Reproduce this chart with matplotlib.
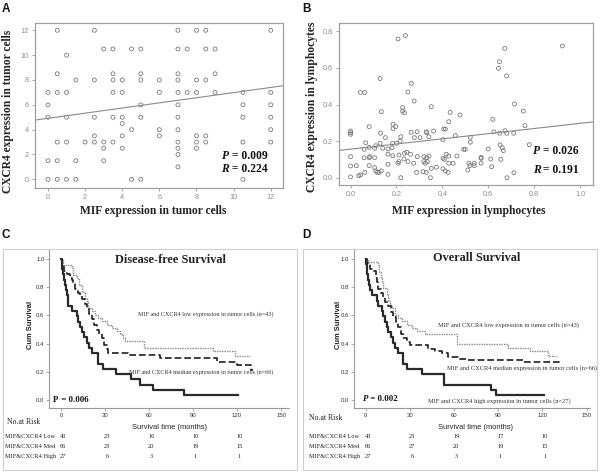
import numpy as np
import matplotlib
matplotlib.use("Agg")
import matplotlib.pyplot as plt
from matplotlib.patches import Rectangle
from matplotlib.transforms import blended_transform_factory

SERIF = ["Liberation Serif", "DejaVu Serif"]
SANS = ["Liberation Sans", "DejaVu Sans"]

# ---------------- Panel A data (MIF vs CXCR4 in tumor cells) ----------------
A_rows = {
    12:   [0.5, 2.5, 7, 8, 8.5, 12],
    10.5: [3, 3.5, 4.5, 5, 7, 7.5, 8.5, 9],
    10:   [1],
    8.5:  [0.5, 3.5, 5, 7, 9],
    8:    [1.5, 2.5, 3.5, 4, 5, 6, 7, 8, 8.5],
    7:    [0, 0.5, 1, 3.5, 4, 6, 7, 7.5, 8, 9, 10.5, 12],
    6:    [0, 5, 7, 10.5, 12],
    5:    [0, 1, 2.5, 3.5, 4, 5, 7, 10.5, 12],
    4.5:  [4],
    4:    [4.5, 6, 7, 12],
    3.5:  [2.5, 4, 6, 8, 8.5],
    3:    [0.5, 1, 2, 2.5, 3, 3.5, 7, 8, 8.5, 10.5, 12],
    2.5:  [3, 4, 7, 8],
    2:    [7],
    1.5:  [0, 0.5, 1.5, 3],
    1:    [7],
    0:    [0, 0.5, 1, 1.5, 4.5, 5, 10.5],
}
A_x = [x for yv, xs in A_rows.items() for x in xs]
A_y = [yv for yv, xs in A_rows.items() for x in xs]
A_fit = (4.915, 0.207)          # intercept, slope
A_stats = ("0.009", "0.224")

# ---------------- Panel B data (lymphocytes) ----------------
B_pts = [
    (0.207, 0.758), (0.239, 0.777), (0.129, 0.542), (0.043, 0.466), (0.062, 0.466),
    (0.265, 0.516), (0.25, 0.469),
    (0.672, 0.707), (0.649, 0.634), (0.645, 0.598), (0.68, 0.557), (0.923, 0.72),
    (0.715, 0.403), (0.753, 0.364), (0.62, 0.319), (0.76, 0.285), (0.522, 0.221),
    (0.522, 0.194), (0.779, 0.18), (0.493, 0.155), (0.50, 0.155), (0.477, 0.343),
    (0.625, 0.251), (0.65, 0.243), (0.673, 0.257), (0.68, 0.243), (0.711, 0.243),
    (0.652, 0.179), (0.661, 0.164), (0.666, 0.148), (0.60, 0.157), (0.569, 0.111),
    (0.569, 0.106), (0.611, 0.102), (0.655, 0.10), (0.516, 0.079), (0.539, 0.079),
    (0.52, 0.066), (0.539, 0.066), (0.569, 0.079), (0.615, 0.06), (0.511, 0.042),
    (0.712, 0.027), (0.682, 0.0),
    (0.277, 0.419), (0.352, 0.388), (0.227, 0.383), (0.134, 0.361), (0.227, 0.364),
    (0.235, 0.355), (0.434, 0.357),
    (0.081, 0.279), (0.185, 0.292), (0.197, 0.279), (0.185, 0.268),
    (0.0, 0.255), (0.0, 0.246), (0.0, 0.237),
    (0.131, 0.243), (0.152, 0.219), (0.264, 0.248), (0.29, 0.251), (0.33, 0.251),
    (0.332, 0.246), (0.362, 0.255), (0.407, 0.266), (0.413, 0.266), (0.428, 0.306),
    (0.457, 0.23),
    (0.219, 0.224), (0.201, 0.188), (0.184, 0.188), (0.216, 0.20), (0.066, 0.191),
    (0.11, 0.175), (0.129, 0.188), (0.278, 0.219), (0.303, 0.219), (0.341, 0.224),
    (0.402, 0.208),
    (0.059, 0.155), (0.081, 0.166), (0.105, 0.161), (0.14, 0.161), (0.163, 0.157),
    (0.181, 0.164),
    (0.0, 0.115), (0.059, 0.109), (0.081, 0.109), (0.084, 0.115), (0.105, 0.109),
    (0.163, 0.128), (0.184, 0.12), (0.211, 0.124), (0.235, 0.133), (0.245, 0.139),
    (0.262, 0.128), (0.291, 0.115), (0.32, 0.115), (0.332, 0.109), (0.342, 0.118),
    (0.417, 0.128), (0.428, 0.118), (0.464, 0.118),
    (0.0, 0.064), (0.025, 0.066), (0.081, 0.066), (0.105, 0.055), (0.163, 0.073),
    (0.207, 0.079), (0.211, 0.088), (0.233, 0.102), (0.25, 0.088), (0.275, 0.079),
    (0.319, 0.088), (0.326, 0.079), (0.335, 0.088), (0.403, 0.106), (0.41, 0.10),
    (0.428, 0.079), (0.447, 0.079),
    (0.036, 0.011), (0.044, 0.015), (0.062, 0.029), (0.11, 0.037), (0.117, 0.029),
    (0.124, 0.029), (0.134, 0.037), (0.163, 0.018), (0.288, 0.029), (0.316, 0.033),
    (0.33, 0.029), (0.352, 0.051), (0.374, 0.057), (0.403, 0.049), (0.413, 0.037),
    (0.425, 0.029),
    (0.0, 0.004), (0.219, 0.0), (0.348, 0.0),
]
B_x = [p[0] for p in B_pts]
B_y = [p[1] for p in B_pts]
B_fit = (0.156, 0.141)
B_stats = ("0.026", "0.191")

# ---------------- Panel C: Disease-free survival ----------------
C_low_t = [0, 1.6, 7.3, 8.4, 10.7, 12.5, 14.1, 16.4, 17.5, 18.6, 20.9, 23.2, 25.4, 27.7,
           31.1, 34.5, 37.9, 40.2, 42.0, 43.6, 56.8, 103.8, 118.6]
C_low_s = [1.0, 0.953, 0.93, 0.884, 0.86, 0.814, 0.767, 0.721, 0.698, 0.651, 0.628, 0.605,
           0.581, 0.558, 0.535, 0.512, 0.488, 0.465, 0.442, 0.419, 0.372, 0.349, 0.314]
C_low_end = 128.8
C_med_t = [0, 0.9, 2.3, 3.9, 6.2, 7.3, 8.4, 9.5, 11.4, 13.0, 14.5, 16.4, 17.5, 19.1, 20.9,
           22.7, 24.3, 25.9, 27.7, 29.5, 31.1, 32.3, 45.9, 67.5, 106.0, 119.8, 129.5]
C_med_s = [1.0, 0.955, 0.909, 0.894, 0.864, 0.848, 0.818, 0.788, 0.758, 0.742, 0.712, 0.682,
           0.652, 0.606, 0.576, 0.53, 0.5, 0.47, 0.439, 0.394, 0.364, 0.338, 0.318, 0.297,
           0.272, 0.25, 0.212]
C_med_end = 131.0
C_high_t = [0, 0.5, 1.0, 1.6, 2.2, 2.8, 3.4, 4.0, 5.0, 7.3, 10.7, 11.8, 13.0, 14.1, 15.9,
            17.5, 19.1, 20.9, 25.4, 28.9, 37.3, 47.7, 53.9, 62.5, 84.1]
C_high_s = [1.0, 0.963, 0.926, 0.889, 0.852, 0.815, 0.778, 0.741, 0.667, 0.63, 0.593, 0.556,
            0.519, 0.481, 0.444, 0.407, 0.37, 0.333, 0.259, 0.222, 0.185, 0.148, 0.111,
            0.074, 0.037]
C_high_end = 120.4
C_risk = {"Low": [43, 23, 16, 10, 10], "Med": [66, 23, 20, 19, 15], "High": [27, 6, 3, 1, 1]}

# ---------------- Panel D: Overall survival ----------------
D_low_t = [0, 1.5, 8.1, 9.0, 10.4, 11.2, 12.0, 14.2, 15.4, 16.5, 17.6, 19.9, 22.2, 24.4,
           27.8, 31.2, 34.6, 40.2, 61.7, 96.8, 111.5, 124.0]
D_low_s = [1.0, 0.977, 0.953, 0.907, 0.86, 0.837, 0.791, 0.744, 0.698, 0.674, 0.651, 0.605,
           0.581, 0.558, 0.535, 0.512, 0.488, 0.465, 0.395, 0.372, 0.349, 0.314]
D_low_end = 129.6
D_med_t = [0, 1.0, 3.0, 4.6, 6.9, 7.5, 8.6, 10.4, 12.0, 13.1, 15.4, 17.2, 18.8, 20.3, 22.2,
           23.9, 25.5, 27.8, 30.1, 42.5, 47.0, 51.6, 56.1, 62.9, 69.7, 107.0]
D_med_s = [1.0, 0.97, 0.924, 0.909, 0.864, 0.833, 0.788, 0.758, 0.727, 0.697, 0.667, 0.621,
           0.591, 0.545, 0.515, 0.47, 0.439, 0.409, 0.394, 0.364, 0.348, 0.333, 0.303,
           0.295, 0.288, 0.272]
D_med_end = 132.6
D_high_t = [0, 0.4, 0.7, 1.2, 1.8, 2.4, 2.9, 4.1, 7.5, 8.6, 10.8, 12.0, 13.1, 14.2, 15.4,
            17.2, 18.8, 19.9, 21.7, 25.5, 27.8, 38.0, 53.4, 85.0, 88.2]
D_high_s = [1.0, 0.963, 0.926, 0.889, 0.852, 0.815, 0.778, 0.741, 0.704, 0.667, 0.63, 0.593,
            0.556, 0.519, 0.481, 0.444, 0.407, 0.37, 0.333, 0.259, 0.222, 0.185, 0.111,
            0.074, 0.037]
D_high_end = 121.3
D_risk = {"Low": [43, 23, 19, 17, 10], "Med": [66, 27, 20, 19, 15], "High": [27, 6, 3, 1, 1]}

risk_months = [0, 30, 60, 90, 120]

# ---------------- figure ----------------
W, H = 600, 473
fig = plt.figure(figsize=(6, 4.73), dpi=100)


def rect(l, t, r, b):
    return [l / W, 1 - b / H, (r - l) / W, (b - t) / H]


def fxy(px, py):
    return px / W, 1 - py / H


def scatter_panel(box, x, y, fit, stats, xlim, ylim, xticks, yticks, fmt,
                  xlabel, ylabel, xl_pos, yl_pos, stat_pos):
    ax = fig.add_axes(box)
    ax.scatter(x, y, s=8, facecolors="none", edgecolors="#7a7a7a", linewidths=0.6)
    ax.set_xlim(xlim)
    ax.set_ylim(ylim)
    xs = np.array(xlim)
    ax.plot(xs, fit[0] + fit[1] * xs, color="#8a8a8a", lw=0.8)
    ax.set_xticks(xticks)
    ax.set_yticks(yticks)
    ax.set_xticklabels([fmt(v) for v in xticks])
    ax.set_yticklabels([fmt(v) for v in yticks])
    ax.tick_params(length=2.5, width=0.6, color="#999999", labelsize=5.2,
                   labelcolor="#8c8c8c", pad=2)
    for lab in ax.get_xticklabels() + ax.get_yticklabels():
        lab.set_family(SANS)
    for sp in ax.spines.values():
        sp.set_color("#a0a0a0")
        sp.set_linewidth(0.9)
    ax.text(xl_pos[0], xl_pos[1], xlabel, transform=ax.transAxes, ha="center", va="center",
            family=SERIF, fontweight="bold", fontsize=8.3, color="#222222")
    ax.text(yl_pos[0], yl_pos[1], ylabel, transform=ax.transAxes, ha="center", va="center",
            rotation=90, family=SERIF, fontweight="bold", fontsize=8.3, color="#222222")
    for (sx, sy), letter, val in zip(stat_pos, ["P", "R"], stats):
        t = ax.text(sx, sy, letter, transform=ax.transAxes, ha="right", va="bottom",
                    family=SERIF, fontweight="bold", style="italic", fontsize=8.4,
                    color="#111111")
        ax.annotate(" = " + val, xy=(1, 0), xycoords=t, ha="left", va="bottom",
                    family=SERIF, fontweight="bold", fontsize=8.4, color="#111111")
    return ax


# Panel A
scatter_panel(rect(35, 23, 283, 188), A_x, A_y, A_fit, A_stats,
              (-0.7, 12.66), (-0.7, 12.59), list(range(0, 13, 2)), list(range(0, 13, 2)),
              lambda v: f"{v:d}",
              "MIF expression in tumor cells", "CXCR4 expression in tumor cells",
              (0.477, -0.138), (-0.108, 0.467),
              [(0.781, 0.155), (0.781, 0.076)])

# Panel B
scatter_panel(rect(339.3, 23.3, 593.3, 185), B_x, B_y, B_fit, B_stats,
              (-0.049, 1.058), (-0.04, 0.844), [0.0, 0.2, 0.4, 0.6, 0.8, 1.0],
              [0.0, 0.2, 0.4, 0.6, 0.8], lambda v: f"{v:.1f}",
              "MIF expression in lymphocytes", "CXCR4 expression in lymphocytes",
              (0.508, -0.159), (-0.109, 0.484),
              [(0.792, 0.172), (0.792, 0.058)])


def km_panel(box, frame, curves, xlim, title, title_xy, p_text, p_italic, p_xy,
             annots, ylabel_xy, xlabel_xy, nrisk_xy, row_x, risk):
    # outer light frame
    fig.add_artist(Rectangle(fxy(frame[0], frame[3]), (frame[2] - frame[0]) / W,
                             (frame[3] - frame[1]) / H, transform=fig.transFigure,
                             fill=False, edgecolor="#cfcfcf", lw=0.8))
    ax = fig.add_axes(box)
    styles = [dict(color="#8a8a8a", lw=1.0, ls=(0, (1, 0.8))),
              dict(color="#1e1e1e", lw=1.2, ls=(0, (4, 1.8))),
              dict(color="#2a2a2a", lw=1.6, ls="-")]
    for (t, s, end), st in zip(curves, styles):
        ax.step(list(t) + [end], list(s) + [s[-1]], where="post", **st)
    ax.set_xlim(xlim)
    ax.set_ylim(-0.055, 1.06)
    ax.set_xticks([0, 30, 60, 90, 120, 150])
    ax.set_yticks([0.0, 0.2, 0.4, 0.6, 0.8, 1.0])
    ax.set_yticklabels([f"{v:.1f}" for v in [0.0, 0.2, 0.4, 0.6, 0.8, 1.0]])
    ax.tick_params(length=2, width=0.5, color="#888888", labelsize=4.3,
                   labelcolor="#333333", pad=1.5)
    for lab in ax.get_xticklabels() + ax.get_yticklabels():
        lab.set_family(SANS)
    for k in ["top", "right"]:
        ax.spines[k].set_visible(False)
    for k in ["left", "bottom"]:
        ax.spines[k].set_color("#9a9a9a")
        ax.spines[k].set_linewidth(0.8)
    ax.patch.set_alpha(0)

    tx, ty = fxy(*title_xy)
    fig.text(tx, ty, title, ha="center", va="center", family=SERIF, fontweight="bold",
             fontsize=8.8, color="#222222")
    px, py = fxy(*p_xy)
    t = fig.text(px, py, "P", ha="left", va="center", family=SERIF, fontweight="bold",
                 style="italic" if p_italic else "normal", fontsize=6.4, color="#111111")
    fig.text(0, 0, "")
    ax.annotate(" = " + p_text, xy=(1, 0), xycoords=t, ha="left", va="bottom",
                family=SERIF, fontweight="bold", fontsize=6.4, color="#111111")
    for txt, (ax_, ay_), fs in annots:
        x0, y0 = fxy(ax_, ay_)
        fig.text(x0, y0, txt, ha="left", va="center", family=SERIF, fontsize=fs,
                 color="#333333")
    yx, yy = fxy(*ylabel_xy)
    fig.text(yx, yy, "Cum Survival", rotation=90, ha="center", va="center", family=SANS,
             fontweight="bold", fontsize=5.4, color="#222222")
    lx, ly = fxy(*xlabel_xy)
    fig.text(lx, ly, "Survival time (months)", ha="center", va="center", family=SANS,
             fontsize=5.4, color="#222222")
    nx, ny = fxy(*nrisk_xy)
    fig.text(nx, ny, "No.at Risk", ha="left", va="center", family=SERIF, fontsize=5.6,
             color="#222222")
    trans = blended_transform_factory(ax.transData, fig.transFigure)
    for (grp, vals), rpy in zip(risk.items(), [436, 446, 456]):
        rx, ry = fxy(row_x, rpy)
        fig.text(rx, ry, f"MIF&CXCR4 {grp}", ha="left", va="center", family=SERIF,
                 fontsize=4.6, color="#222222")
        for m, v in zip(risk_months, vals):
            ax.text(m + 1.5, ry, str(v), transform=trans, ha="center", va="center",
                    family=SERIF, fontsize=4.6, color="#222222", clip_on=False)
    return ax


km_panel(rect(49.3, 250, 289.3, 408.3), (2.7, 249, 296.7, 470),
         [(C_low_t, C_low_s, C_low_end), (C_med_t, C_med_s, C_med_end),
          (C_high_t, C_high_s, C_high_end)],
         (-7.98, 155.6), "Disease-free Survival", (170.3, 260), "0.006", False,
         (53.3, 399.7),
         [("MIF and CXCR4 low expression in tumor cells (n=43)", (138.3, 314.3), 4.4),
          ("MIF and CXCR4 median expression in tumor cells (n=66)", (129.3, 372.3), 4.4)],
         (30, 325), (170, 427.7), (6.7, 421.7), 5, C_risk)

km_panel(rect(354, 250, 590, 408.3), (303.3, 249, 596.7, 470),
         [(D_low_t, D_low_s, D_low_end), (D_med_t, D_med_s, D_med_end),
          (D_high_t, D_high_s, D_high_end)],
         (-7.94, 152.3), "Overall Survival", (476.7, 258), "0.002", True,
         (362.7, 399),
         [("MIF and CXCR4 low expression in tumor cells (n=43)", (438.3, 325), 4.6),
          ("MIF and CXCR4 median expression in tumor cells (n=66)", (446.7, 367.7), 4.6),
          ("MIF and CXCR4 high expression in tumor cells (n=27)", (428.3, 401), 4.6)],
         (338, 325), (475, 427.7), (309, 417.7), 309, D_risk)

# panel letters
for letter, (lx, ly) in zip("ABCD", [(2, 3), (302, 3), (2, 229), (302, 229)]):
    x0, y0 = fxy(lx, ly)
    fig.text(x0, y0, letter, ha="left", va="top", family=SANS, fontweight="bold",
             fontsize=8.5, color="#111111")

fig.savefig("out.png", dpi=100)
